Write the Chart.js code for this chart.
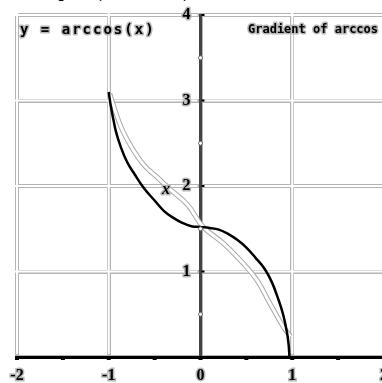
<!DOCTYPE html>
<html>
<head>
<meta charset="utf-8">
<script src="https://cdn.jsdelivr.net/npm/chart.js@4.4.1/dist/chart.umd.min.js"></script>
<style>
  html, body { margin: 0; padding: 0; background: #fff; overflow: hidden; }
  #wrap { position: relative; width: 400px; height: 383px; }
</style>
</head>
<body>
<div id="wrap"><canvas id="arcChart" width="400" height="383"></canvas></div>
<script>
// main curve, sampled by hand
const curveX = [-1, -0.98, -0.95, -0.92, -0.87, -0.8, -0.72, -0.62, -0.5, -0.4, -0.3, -0.2, -0.1, 0, 0.1, 0.2, 0.3, 0.4, 0.5, 0.6, 0.7, 0.78, 0.85, 0.9, 0.94, 0.96, 0.97];
const curveY = [3.1, 2.95, 2.78, 2.63, 2.46, 2.28, 2.14, 1.98, 1.83, 1.71, 1.63, 1.57, 1.53, 1.52, 1.51, 1.49, 1.44, 1.37, 1.28, 1.16, 1.03, 0.87, 0.67, 0.5, 0.3, 0.15, 0];

// outlined comparison band
const bandX = [-0.99, -0.87, -0.76, -0.62, -0.47, -0.33, -0.14, 0.03, 0.25, 0.47, 0.62, 0.76, 0.91, 0.98];
const bandY = [3.08, 2.7, 2.47, 2.25, 2.1, 1.96, 1.78, 1.52, 1.33, 1.09, 0.89, 0.62, 0.34, 0.24];

const xTickLabels = [-2, -1, 0, 1, 2];
const yTickLabels = [1, 2, 3, 4];
const halfSteps = [-2, -1.5, -1, -0.5, 0, 0.5, 1, 1.5, 2];
const yDots = [0.5, 1.5, 2.5, 3.5];

function toPoints(xs, ys) {
  return xs.map((x, i) => ({ x: x, y: ys[i] }));
}

const GRID = "#b4b4b4";
const LABEL_FONT = "bold 16px 'Liberation Serif'";

// white core over the grid lines so they read as thin double lines
const gridCore = {
  id: "gridCore",
  beforeDatasetsDraw(chart) {
    const { ctx, chartArea, scales } = chart;
    const x0 = scales.x.getPixelForValue(0);
    const y0 = scales.y.getPixelForValue(0);
    ctx.save();
    ctx.strokeStyle = "#fff";
    ctx.lineWidth = 2;
    ctx.beginPath();
    [-2, -1, 1, 2].forEach((v) => {
      const px = scales.x.getPixelForValue(v);
      ctx.moveTo(px, chartArea.top - 2);
      ctx.lineTo(px, y0 - 3);
    });
    yTickLabels.forEach((v) => {
      const py = scales.y.getPixelForValue(v);
      ctx.moveTo(chartArea.left - 2, py);
      ctx.lineTo(x0 - 3, py);
      ctx.moveTo(x0 + 3, py);
      ctx.lineTo(chartArea.right + 2, py);
    });
    ctx.stroke();
    ctx.restore();
  },
};

function outlinedText(ctx, text, x, y) {
  ctx.lineJoin = "round";
  ctx.strokeStyle = "#b8b8b8";
  ctx.lineWidth = 3;
  ctx.strokeText(text, x, y);
  ctx.fillStyle = "#000";
  ctx.fillText(text, x, y);
}

const decorations = {
  id: "decorations",
  afterDraw(chart) {
    const { ctx, scales } = chart;
    const x0 = scales.x.getPixelForValue(0);
    const y0 = scales.y.getPixelForValue(0);
    ctx.save();

    // dots along the x axis
    ctx.fillStyle = "#000";
    halfSteps.forEach((v) => {
      const px = scales.x.getPixelForValue(v);
      ctx.fillRect(px - 2, y0 - 1, 4, 4);
    });

    // dots along the y axis
    ctx.strokeStyle = "#666";
    ctx.fillStyle = "#fff";
    ctx.lineWidth = 1;
    yDots.forEach((v) => {
      const py = scales.y.getPixelForValue(v);
      ctx.beginPath();
      ctx.arc(x0, py, 2, 0, Math.PI * 2);
      ctx.fill();
      ctx.stroke();
    });
    ctx.fillStyle = "#000";
    yTickLabels.forEach((v) => {
      const py = scales.y.getPixelForValue(v);
      ctx.fillRect(x0 + 1, py - 1, 3, 2);
    });

    // y tick labels sit just left of the centred axis
    ctx.font = LABEL_FONT;
    ctx.textAlign = "right";
    ctx.textBaseline = "middle";
    yTickLabels.forEach((v) => {
      outlinedText(ctx, String(v), x0 - 10, scales.y.getPixelForValue(v));
    });

    // labels
    ctx.textAlign = "left";
    ctx.font = "bold 14px 'DejaVu Sans Mono'";
    ctx.letterSpacing = "2px";
    outlinedText(ctx, "y = arccos(x)", 20, 30);
    ctx.font = "bold 12px 'DejaVu Sans Mono'";
    ctx.letterSpacing = "0px";
    outlinedText(ctx, "Gradient of arccos", 248, 30);

    ctx.font = "italic bold 16px 'Liberation Serif'";
    outlinedText(ctx, "x", scales.x.getPixelForValue(-0.42), scales.y.getPixelForValue(1.95));

    // heading, mostly above the canvas
    ctx.font = "34px 'Liberation Serif'";
    ctx.textBaseline = "middle";
    ctx.fillStyle = "#000";
    ctx.fillText("y′ (1 − x²)", 58, -15);
    ctx.restore();
  },
};

const chart = new Chart(document.getElementById("arcChart").getContext("2d"), {
  type: "line",
  data: {
    datasets: [
      {
        data: toPoints(curveX, curveY),
        borderColor: "#000",
        borderWidth: 2.5,
        pointRadius: 0,
        tension: 0.4,
        order: 0,
      },
      {
        data: toPoints(bandX, bandY),
        borderColor: "#fff",
        borderWidth: 3,
        pointRadius: 0,
        tension: 0.4,
        order: 1,
      },
      {
        data: toPoints(bandX, bandY),
        borderColor: "#a8a8a8",
        borderWidth: 5,
        pointRadius: 0,
        tension: 0.4,
        order: 2,
      },
    ],
  },
  options: {
    responsive: false,
    animation: false,
    layout: { padding: { left: 17, right: 16, top: 15, bottom: 26 } },
    plugins: { legend: { display: false }, tooltip: { enabled: false } },
    scales: {
      x: {
        type: "linear",
        min: -2,
        max: 2,
        position: { y: 0 },
        grid: { color: GRID, lineWidth: 4, drawTicks: false, z: -1 },
        border: { color: "#000", width: 3 },
        ticks: {
          stepSize: 1,
          padding: 9,
          color: "#000",
          textStrokeColor: "#b8b8b8",
          textStrokeWidth: 3,
          font: { family: "'Liberation Serif'", size: 16, weight: "bold" },
          callback: (v) => (xTickLabels.includes(v) ? String(v) : ""),
        },
      },
      y: {
        type: "linear",
        min: 0,
        max: 4,
        position: { x: 0 },
        grid: { color: GRID, lineWidth: 4, drawTicks: false, z: -1 },
        border: { color: "#444", width: 3 },
        ticks: { stepSize: 1, display: false },
      },
    },
  },
  plugins: [gridCore, decorations],
});
</script>
</body>
</html>
